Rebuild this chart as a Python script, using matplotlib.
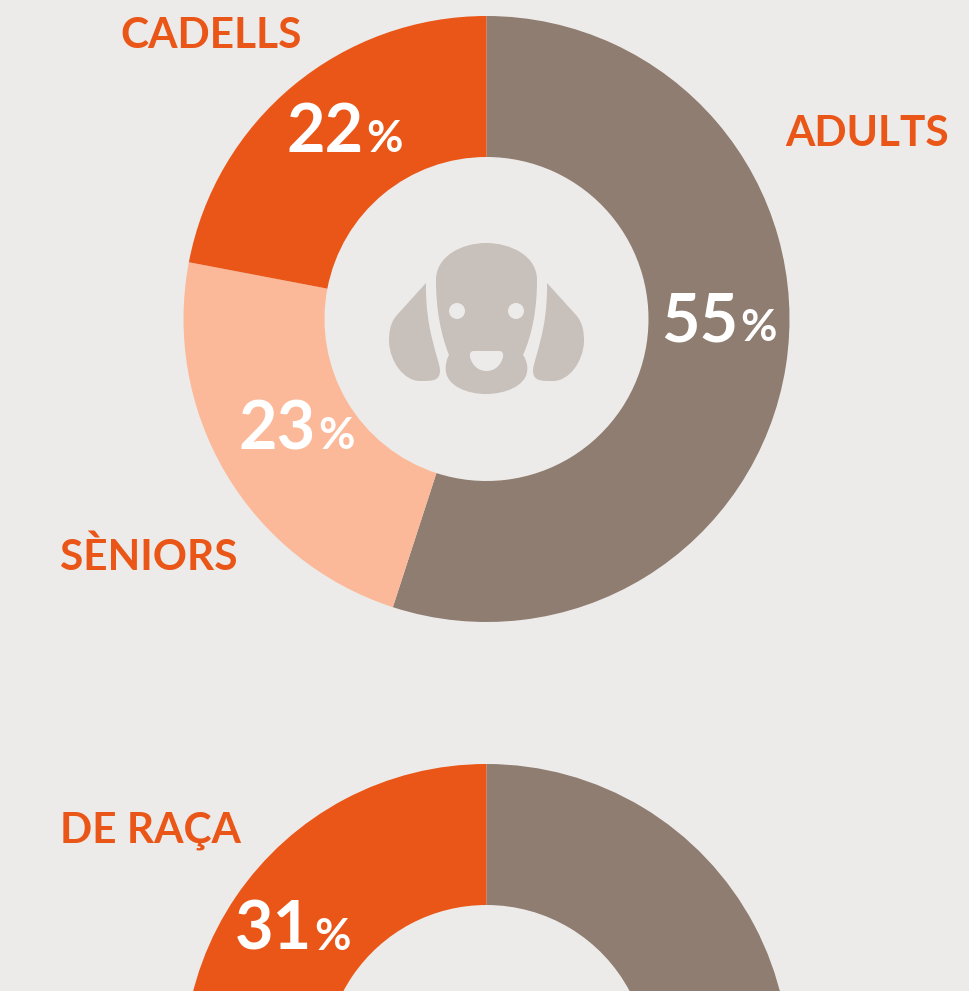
"""Two donut charts, the second one cut by the bottom edge."""
import matplotlib
matplotlib.use("Agg")
import matplotlib.pyplot as plt
from matplotlib.patches import Circle, PathPatch
from matplotlib.path import Path

plt.rcParams["font.family"] = ["Lato", "DejaVu Sans"]

age_labels = ["ADULTS", "SÈNIORS", "CADELLS"]
age_values = [55, 23, 22]
breed_labels = ["MESTISSOS", "DE RAÇA"]
breed_values = [69, 31]

BG = "#edebe9"
ORANGE = "#e95618"
BROWN = "#8e7d70"
PEACH = "#fbb999"
GREY = "#c8c0ba"

fig = plt.figure(figsize=(9.7, 9.91), dpi=100, facecolor=BG)
ax = fig.add_axes([0, 0, 1, 1])


def donut(values, colors, center):
    # y axis gets inverted below, so counterclock here reads clockwise on screen
    ax.pie(
        values,
        colors=colors,
        startangle=-90,
        counterclock=True,
        radius=303,
        center=center,
        frame=True,
        wedgeprops={"width": 141, "linewidth": 0},
    )


donut(age_values, [BROWN, PEACH, ORANGE], (486.5, 319))
donut(breed_values, [BROWN, ORANGE], (486.5, 1067))
ax.set_xlim(0, 970)
ax.set_ylim(991, 0)
ax.set_aspect("auto")
ax.axis("off")


def pct(x, y, value):
    ax.text(x, y, str(value), color="white", fontsize=48, fontweight="bold",
            ha="right", va="baseline")
    ax.text(x + 2, y, "%", color="white", fontsize=32, fontweight="bold",
            ha="left", va="baseline")


def name(x, y, text):
    ax.text(x, y, text, color=ORANGE, fontsize=30.5, fontweight="bold",
            ha="left", va="baseline")


pct(738, 341, age_values[0])
pct(316, 449, age_values[1])
pct(364, 152, age_values[2])
pct(312, 950, breed_values[1])

name(785, 146, age_labels[0])
name(60, 570, age_labels[1])
name(120, 48, age_labels[2])
name(60, 843, breed_labels[1])

# dog icon, traced by eye
head = Path(
    [(436, 280),
     (436, 256), (462, 243), (486, 243),
     (511, 243), (537, 256), (537, 280),
     (537, 310), (532, 335), (523, 355),
     (527, 360), (528, 368), (527, 372),
     (525, 386), (505, 394), (486, 394),
     (467, 394), (448, 386), (446, 372),
     (445, 368), (446, 360), (449, 355),
     (441, 335), (436, 310), (436, 280)],
    [Path.MOVETO] + [Path.CURVE4] * 24,
)
ax.add_patch(PathPatch(head, fc=GREY, lw=0))
left_ear = Path(
    [(426, 283), (397, 315),
     (390, 323), (389, 332), (389, 342),
     (390, 362), (404, 381), (420, 381),
     (433, 381), (440, 381), (440, 370),
     (439, 358), (425, 330), (426, 283)],
    [Path.MOVETO, Path.LINETO] + [Path.CURVE4] * 12,
)
ax.add_patch(PathPatch(left_ear, fc=GREY, lw=0))
right_ear = Path(
    [(547, 283), (576, 315),
     (583, 323), (584, 332), (584, 342),
     (583, 362), (569, 381), (553, 381),
     (540, 381), (533, 381), (533, 370),
     (534, 358), (548, 330), (547, 283)],
    [Path.MOVETO, Path.LINETO] + [Path.CURVE4] * 12,
)
ax.add_patch(PathPatch(right_ear, fc=GREY, lw=0))
ax.add_patch(Circle((457, 311), 8, fc=BG, lw=0))
ax.add_patch(Circle((516, 311), 8, fc=BG, lw=0))
mouth = Path(
    [(474, 351), (499, 351),
     (503, 351), (503.5, 354), (503, 357),
     (501, 365), (495, 371), (486.5, 371),
     (478, 371), (472, 365), (470, 357),
     (469.5, 354), (470, 351), (474, 351)],
    [Path.MOVETO, Path.LINETO] + [Path.CURVE4] * 12,
)
ax.add_patch(PathPatch(mouth, fc=BG, lw=0))

fig.savefig("out.png", dpi=100, facecolor=BG)
